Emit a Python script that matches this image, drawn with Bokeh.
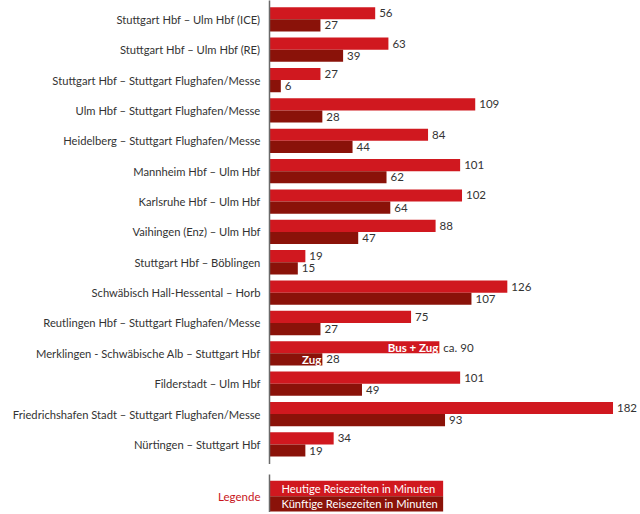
from bokeh.plotting import figure
from bokeh.layouts import column
from bokeh.models import ColumnDataSource, Range1d, FixedTicker
from bokeh.core.properties import value
from bokeh.embed import file_html
from bokeh.resources import INLINE

routes = [
    "Stuttgart Hbf – Ulm Hbf (ICE)",
    "Stuttgart Hbf – Ulm Hbf (RE)",
    "Stuttgart Hbf – Stuttgart Flughafen/Messe",
    "Ulm Hbf – Stuttgart Flughafen/Messe",
    "Heidelberg – Stuttgart Flughafen/Messe",
    "Mannheim Hbf – Ulm Hbf",
    "Karlsruhe Hbf – Ulm Hbf",
    "Vaihingen (Enz) – Ulm Hbf",
    "Stuttgart Hbf – Böblingen",
    "Schwäbisch Hall-Hessental – Horb",
    "Reutlingen Hbf – Stuttgart Flughafen/Messe",
    "Merklingen - Schwäbische Alb – Stuttgart Hbf",
    "Filderstadt – Ulm Hbf",
    "Friedrichshafen Stadt – Stuttgart Flughafen/Messe",
    "Nürtingen – Stuttgart Hbf",
]
heute = [56, 63, 27, 109, 84, 101, 102, 88, 19, 126, 75, 90, 101, 182, 34]
kuenftig = [27, 39, 6, 28, 44, 62, 64, 47, 15, 107, 27, 28, 49, 93, 19]
heute_labels = ["56", "63", "27", "109", "84", "101", "102", "88", "19", "126", "75", "ca. 90", "101", "182", "34"]
kuenftig_labels = ["27", "39", "6", "28", "44", "62", "64", "47", "15", "107", "27", "28", "49", "93", "19"]
heute_inner = [""] * 11 + ["Bus + Zug"] + [""] * 3
kuenftig_inner = [""] * 11 + ["Zug"] + [""] * 3
legend_labels = ["Heutige Reisezeiten in Minuten", "Künftige Reisezeiten in Minuten"]
legend_title = "Legende"

LIGHT = "#d0181f"
DARK = "#8a1209"
TEXT = "#333333"
FONT = "Lato"
AXIS = "#6a6a6a"
LABEL_SIZE = "11.2px"

idx = list(range(len(routes)))
src = ColumnDataSource(dict(
    y_h=[i - 0.2 for i in idx], y_k=[i + 0.2 for i in idx],
    heute=heute, kuenftig=kuenftig,
    hl=heute_labels, kl=kuenftig_labels,
    hi=heute_inner, ki=kuenftig_inner,
))

p = figure(width=638, height=464, x_range=Range1d(0, 195.5), y_range=Range1d(14.66, -0.62),
           output_backend="svg", toolbar_location=None,
           min_border_left=269, min_border_right=0, min_border_top=0, min_border_bottom=0)
p.hbar(y="y_h", left=0, right="heute", height=0.4, source=src, fill_color=LIGHT, line_color=None)
p.hbar(y="y_k", left=0, right="kuenftig", height=0.4, source=src, fill_color=DARK, line_color=None)
p.text(x="heute", y="y_h", text="hl", source=src, x_offset=4, text_baseline="middle",
       text_align="left", text_font=value(FONT), text_font_size="11.5px", text_color=TEXT)
p.text(x="kuenftig", y="y_k", text="kl", source=src, x_offset=4, text_baseline="middle",
       text_align="left", text_font=value(FONT), text_font_size="11.5px", text_color=TEXT)
p.text(x="heute", y="y_h", text="hi", source=src, x_offset=-1, text_baseline="middle",
       text_align="right", text_font=value(FONT), text_font_size="11.5px", text_color="white",
       text_font_style="bold")
p.text(x="kuenftig", y="y_k", text="ki", source=src, x_offset=-1, text_baseline="middle",
       text_align="right", text_font=value(FONT), text_font_size="11.5px", text_color="white",
       text_font_style="bold")

p.xaxis.visible = False
p.xgrid.visible = False
p.ygrid.visible = False
p.outline_line_color = None
p.yaxis.ticker = FixedTicker(ticks=idx)
p.yaxis.major_label_overrides = {i: r for i, r in zip(idx, routes)}
p.yaxis.major_tick_line_color = None
p.yaxis.minor_tick_line_color = None
p.yaxis.axis_line_color = AXIS
p.yaxis.axis_line_width = 1.5
p.yaxis.major_label_standoff = 3
p.yaxis.major_label_text_font = FONT
p.yaxis.major_label_text_font_size = LABEL_SIZE
p.yaxis.major_label_text_color = TEXT

legend_box_len = 92
lsrc = ColumnDataSource(dict(y=[0, 1], right=[legend_box_len] * 2, label=legend_labels, color=[LIGHT, DARK]))
leg = figure(width=638, height=38, x_range=Range1d(0, 195.5), y_range=Range1d(1.56, -0.9),
             output_backend="svg", toolbar_location=None,
             min_border_left=269, min_border_right=0, min_border_top=0, min_border_bottom=0)
leg.hbar(y="y", left=0, right="right", height=1, source=lsrc, fill_color="color", line_color=None)
leg.text(x=0, y="y", text="label", source=lsrc, x_offset=12, text_baseline="middle",
         text_align="left", text_font=value(FONT), text_font_size=LABEL_SIZE, text_color="white")
leg.xaxis.visible = False
leg.xgrid.visible = False
leg.ygrid.visible = False
leg.outline_line_color = None
leg.yaxis.ticker = FixedTicker(ticks=[0.5])
leg.yaxis.major_label_overrides = {0.5: legend_title}
leg.yaxis.major_tick_line_color = None
leg.yaxis.minor_tick_line_color = None
leg.yaxis.axis_line_color = AXIS
leg.yaxis.axis_line_width = 1.5
leg.yaxis.major_label_standoff = 3
leg.yaxis.major_label_text_font = FONT
leg.yaxis.major_label_text_font_size = "11.5px"
leg.yaxis.major_label_text_color = "#c8151b"

layout = column(p, leg, spacing=10)
open("out.html", "w").write(file_html(layout, INLINE))
